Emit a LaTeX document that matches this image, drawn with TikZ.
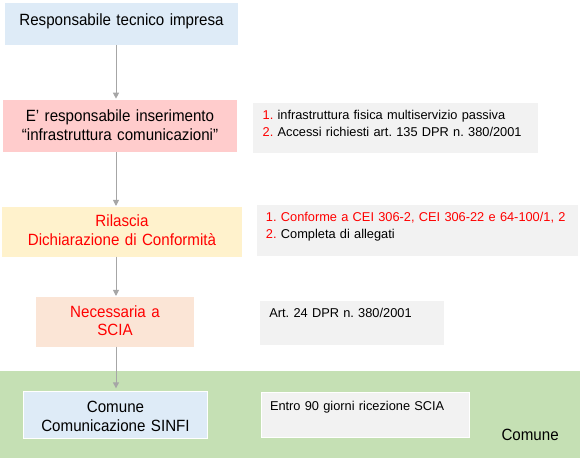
\documentclass[tikz,border=0pt]{standalone}
\usepackage{fontspec}
\setmainfont{Liberation Sans}
\newfontfamily\boxfont[FakeStretch=0.93]{Liberation Sans}
\usetikzlibrary{arrows.meta}
\frenchspacing

\definecolor{boxblue}{RGB}{222,235,247}
\definecolor{boxpink}{RGB}{255,204,204}
\definecolor{boxyellow}{RGB}{255,242,204}
\definecolor{boxpeach}{RGB}{251,229,214}
\definecolor{notegrey}{RGB}{242,242,242}
\definecolor{bandgreen}{RGB}{197,224,180}
\definecolor{flowgrey}{RGB}{166,166,166}
\definecolor{mark}{RGB}{255,0,0}

\tikzset{every picture/.style={line width=0.75pt}}
\tikzset{
  mainbox/.style={anchor=north west, inner sep=0pt, outer sep=0pt, align=center,
    font=\boxfont\fontsize{12.2pt}{14pt}\selectfont},
  notebox/.style={anchor=north west, fill=notegrey, inner ysep=0pt, outer sep=0pt, align=left,
    font=\fontsize{9.6pt}{12.75pt}\selectfont},
  flow/.style={color=flowgrey, -{Triangle[width=4.5pt,length=4.5pt]}, shorten >=1pt}
}

\begin{document}
\begin{tikzpicture}[x=0.75pt,y=0.75pt,yscale=-1,xscale=1]
\useasboundingbox (0,0) rectangle (580,458);

%Shape: Rectangle [band Comune]
\fill [color=bandgreen] (0,371) rectangle (580,458) ;

% Text Node
\draw (5,3) node (resp) [mainbox, fill=boxblue, text width=174.75pt, text height=17pt, text depth=14.5pt] {Responsabile tecnico impresa\hspace*{9pt}};
% Text Node
\draw (3,100) node (inser) [mainbox, fill=boxpink, text width=175.5pt, text height=16.3pt, text depth=22.7pt] {E’ responsabile inserimento\\“infrastruttura comunicazioni”};
% Text Node
\draw (2.3,207.3) node (dico) [mainbox, fill=boxyellow, text=mark, text width=179.5pt, text height=14.5pt, text depth=22.5pt] {Rilascia\\Dichiarazione di Conformità};
% Text Node
\draw (36,297.3) node (scia) [mainbox, fill=boxpeach, text=mark, text width=118.5pt, text height=15pt, text depth=22pt] {Necessaria a\\SCIA};
% Text Node
\draw (23.3,391) node (sinfi) [mainbox, fill=boxblue, draw=white, text width=138.3pt, text height=16pt, text depth=19.8pt] {Comune\\Comunicazione SINFI};

% Text Node
\draw (253.3,103.3) node (inserNote) [notebox, inner xsep=7pt, text width=199.3pt, text height=11.8pt, text depth=25.7pt] {\textcolor{mark}{1.} infrastruttura fisica multiservizio passiva\\\textcolor{mark}{2.} Accessi richiesti art. 135 DPR n. 380/2001};
% Text Node
\draw (257.3,205) node (dicoNote) [notebox, inner xsep=6.5pt, text width=227.3pt, text height=12.5pt, text depth=25.5pt] {\textcolor{mark}{1. Conforme a CEI 306-2, CEI 306-22 e 64-100/1, 2}\\\textcolor{mark}{2.} Completa di allegati};
% Text Node
\draw (260,300.7) node (sciaNote) [notebox, inner xsep=7pt, text width=124pt, text height=12.5pt, text depth=20.6pt] {Art. 24 DPR n. 380/2001};
% Text Node
\draw (261,392.3) node (sinfiNote) [notebox, draw=white, inner xsep=6.75pt, text width=142.5pt, text height=14pt, text depth=19.7pt] {Entro 90 giorni ricezione SCIA};
% Text Node
\draw (501,440) node (bandLabel) [anchor=base west, inner sep=0pt, font=\boxfont\fontsize{12.2pt}{14pt}\selectfont] {Comune};

%Straight Lines [flow]
\coordinate (spine) at (116,0);
\draw [flow] (resp.south -| spine) -- (inser.north -| spine) ;
\draw [flow] (inser.south -| spine) -- (dico.north -| spine) ;
\draw [flow] (dico.south -| spine) -- (scia.north -| spine) ;
\draw [flow, shorten >=2pt] (scia.south -| spine) -- (sinfi.north -| spine) ;

\end{tikzpicture}
\end{document}
